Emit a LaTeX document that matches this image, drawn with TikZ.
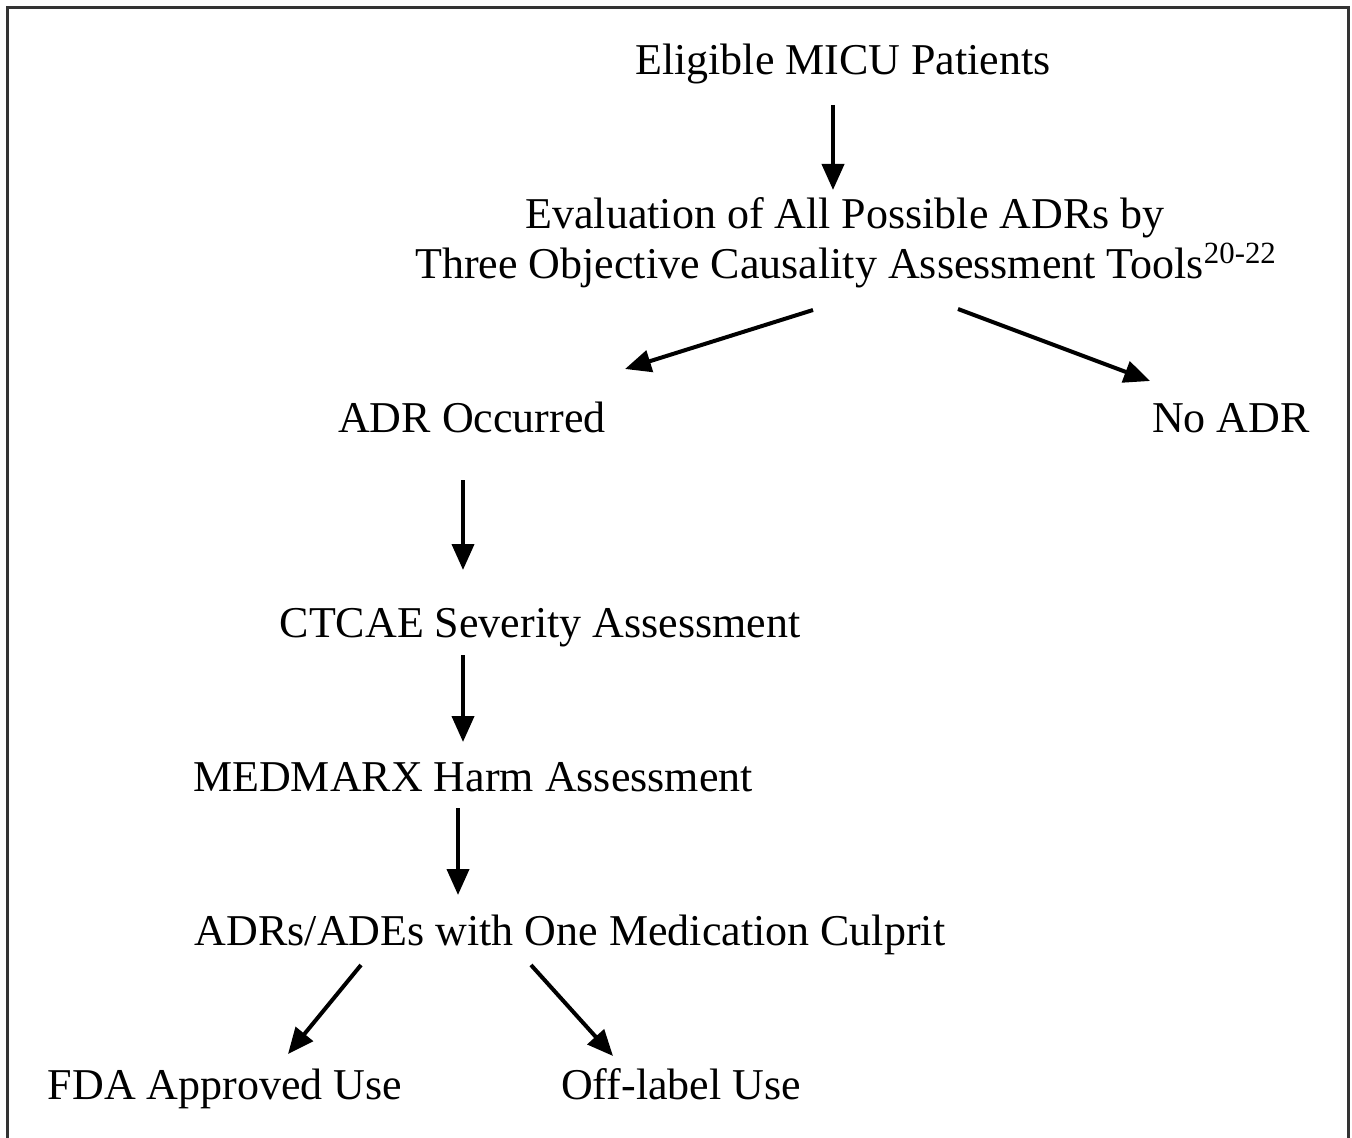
\documentclass[tikz,border=0pt]{standalone}
\usepackage{fontspec}
\setmainfont{Liberation Serif}
\usetikzlibrary{arrows.meta}
\tikzset{
  lbl/.style={anchor=base, inner sep=0pt, font=\fontsize{22}{25}\selectfont, align=center},
  arr/.style={line width=2pt, -{Triangle[length=13pt,width=11pt]}},
  frame/.style={line width=1.6pt, draw=black!80}
}
\begin{document}
\begin{tikzpicture}[x=0.5pt,y=-0.5pt]
\useasboundingbox (0,0) rectangle (1352,1138);
\draw[frame] (7.5,1150) -- (7.5,7.5) -- (1348.5,7.5) -- (1348.5,1150);

\node[lbl] (elig) at (843,75) {Eligible MICU Patients};
\node[lbl] (eval1) at (845,229) {Evaluation of All Possible ADRs by};
\node[lbl] (eval2) at (846,279) {Three Objective Causality Assessment Tools\textsuperscript{20-22}};
\node[lbl] (occ) at (472,432) {ADR Occurred};
\node[lbl] (noadr) at (1231,432) {No ADR};
\node[lbl] (ctcae) at (540,637) {CTCAE Severity Assessment};
\node[lbl] (medm) at (473,791) {MEDMARX Harm Assessment};
\node[lbl] (one) at (570,945) {ADRs/ADEs with One Medication Culprit};
\node[lbl] (fda) at (225,1099) {FDA Approved Use};
\node[lbl] (off) at (681,1099) {Off-label Use};

\coordinate (a1s) at (833,105);  \coordinate (a1e) at (833,190);
\coordinate (a2s) at (813,310);  \coordinate (a2e) at (625,369);
\coordinate (a3s) at (958,309);  \coordinate (a3e) at (1150,381);
\coordinate (a4s) at (463,480);  \coordinate (a4e) at (463,570);
\coordinate (a5s) at (463,655);  \coordinate (a5e) at (463,742);
\coordinate (a6s) at (458,808);  \coordinate (a6e) at (458,895);
\coordinate (a7s) at (361,965);  \coordinate (a7e) at (288,1054);
\coordinate (a8s) at (531,965);  \coordinate (a8e) at (613,1056);

\draw[arr] (a1s) -- (a1e);
\draw[arr] (a2s) -- (a2e);
\draw[arr] (a3s) -- (a3e);
\draw[arr] (a4s) -- (a4e);
\draw[arr] (a5s) -- (a5e);
\draw[arr] (a6s) -- (a6e);
\draw[arr] (a7s) -- (a7e);
\draw[arr] (a8s) -- (a8e);
\end{tikzpicture}
\end{document}
